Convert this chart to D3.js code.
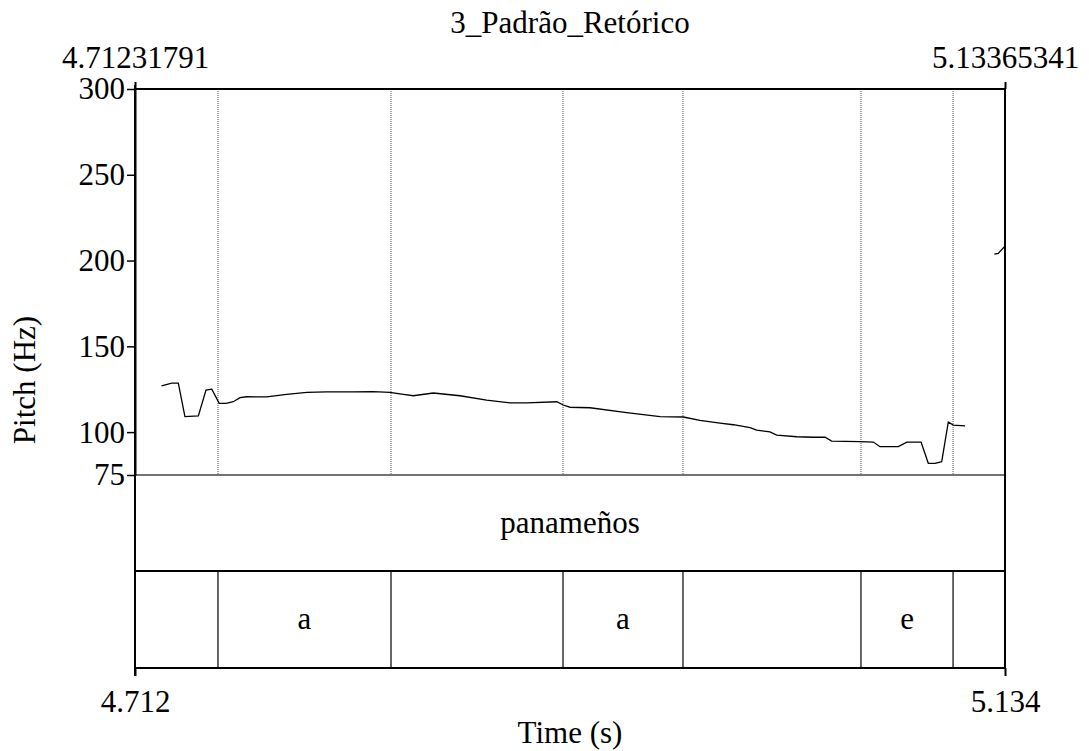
<!DOCTYPE html>
<html>
<head>
<meta charset="utf-8">
<script src="https://cdn.jsdelivr.net/npm/d3@7"></script>
<style>
  html, body { margin: 0; padding: 0; background: #fff; }
  svg { display: block; }
</style>
</head>
<body>
<svg id="chart" width="1089" height="751"></svg>
<script>
// ---- data ----
const timeDomain = [4.71231791, 5.13365341];
const pitchTicks = [75, 100, 150, 200, 250, 300];

// pitch track, first voiced stretch
const pitchTimes1 = [4.7252, 4.7301, 4.7333, 4.7365, 4.7430, 4.7467, 4.7495, 4.7531, 4.7564, 4.7599,
  4.7632, 4.7664, 4.7761, 4.7858, 4.7955, 4.8052, 4.8179, 4.8276, 4.8358, 4.8423,
  4.8471, 4.8568, 4.8697, 4.8826, 4.8939, 4.9020, 4.9166, 4.9197, 4.9230, 4.9327,
  4.9504, 4.9666, 4.9779, 4.9859, 4.9956, 5.0021, 5.0102, 5.0134, 5.0198, 5.0231,
  5.0328, 5.0408, 5.0465, 5.0497, 5.0634, 5.0699, 5.0731, 5.0820, 5.0861, 5.0930,
  5.0965, 5.0998, 5.1030, 5.1062, 5.1086, 5.1143];
const pitchHz1 = [126.9, 128.5, 128.6, 109.0, 109.4, 124.5, 125.0, 116.8, 116.8, 117.7,
  120.1, 120.6, 120.5, 122.0, 123.2, 123.4, 123.4, 123.6, 123.2, 122.0,
  121.2, 122.8, 121.2, 118.7, 117.1, 117.1, 117.7, 115.8, 114.5, 114.2,
  111.3, 109.0, 108.8, 106.9, 105.3, 104.3, 102.6, 101.2, 100.1, 98.3,
  97.3, 97.0, 97.1, 94.8, 94.4, 94.2, 91.5, 91.5, 94.2, 94.2,
  81.8, 81.8, 82.8, 105.9, 104.1, 103.6];
// pitch track, second voiced stretch
const pitchTimes2 = [5.1285, 5.1304, 5.1337];
const pitchHz2 = [203.8, 204.2, 208.5];

// word tier
const wordBounds = [];
const wordLabels = ["panameños"];

// phone tier
const phoneBounds = [4.7525, 4.8363, 4.9196, 4.9777, 5.0639, 5.1085];
const phoneLabels = ["", "a", "", "a", "", "e", ""];

const title = "3_Padrão_Retórico";

// ---- layout ----
const left = 135, right = 1005;
const pitchTop = 89, pitchBottom = 475;
const tier1Bottom = 571, tier2Bottom = 668;
const FONT = 31;
const SERIF = '"Liberation Serif"';

const svg = d3.select("#chart");
const x = d3.scaleLinear().domain(timeDomain).range([left, right]);
const y = d3.scaleLinear().domain([75, 300]).range([pitchBottom, pitchTop]);

// title
svg.append("text").attr("x", (left + right) / 2).attr("y", 33)
  .attr("text-anchor", "middle").text(title);

// dotted boundary guides in the pitch panel
svg.append("g").selectAll("line").data(phoneBounds).join("line")
  .attr("x1", d => x(d)).attr("x2", d => x(d))
  .attr("y1", pitchTop).attr("y2", pitchBottom)
  .attr("stroke", "#555").attr("stroke-width", 1).attr("stroke-dasharray", "1,1");

// pitch curve
svg.append("clipPath").attr("id", "clip").append("rect")
  .attr("x", left).attr("y", pitchTop).attr("width", right - left).attr("height", pitchBottom - pitchTop);
const line = d3.line().x(d => x(d[0])).y(d => y(d[1]));
const g = svg.append("g").attr("clip-path", "url(#clip)");
[[pitchTimes1, pitchHz1], [pitchTimes2, pitchHz2]].forEach(([ts, hs]) => {
  g.append("path").datum(ts.map((t, i) => [t, hs[i]]))
    .attr("d", line).attr("fill", "none").attr("stroke", "#000").attr("stroke-width", 1.3);
});

// tier separators
svg.append("line").attr("x1", left).attr("x2", right).attr("y1", pitchBottom).attr("y2", pitchBottom)
  .attr("stroke", "#444").attr("stroke-width", 1.5);
svg.append("line").attr("x1", left).attr("x2", right).attr("y1", tier1Bottom).attr("y2", tier1Bottom)
  .attr("stroke", "#000").attr("stroke-width", 2);

// word tier
const wEdges = [timeDomain[0], ...wordBounds, timeDomain[1]];
svg.append("g").selectAll("line").data(wordBounds).join("line")
  .attr("x1", d => x(d)).attr("x2", d => x(d)).attr("y1", pitchBottom).attr("y2", tier1Bottom)
  .attr("stroke", "#000").attr("stroke-width", 1.2);
svg.append("g").selectAll("text").data(wordLabels).join("text")
  .attr("x", (d, i) => (x(wEdges[i]) + x(wEdges[i + 1])) / 2)
  .attr("y", (pitchBottom + tier1Bottom) / 2).attr("dy", "0.32em")
  .attr("text-anchor", "middle").text(d => d);

// phone tier
const pEdges = [timeDomain[0], ...phoneBounds, timeDomain[1]];
svg.append("g").selectAll("line").data(phoneBounds).join("line")
  .attr("x1", d => x(d)).attr("x2", d => x(d)).attr("y1", tier1Bottom).attr("y2", tier2Bottom)
  .attr("stroke", "#000").attr("stroke-width", 1.2);
svg.append("g").selectAll("text").data(phoneLabels).join("text")
  .attr("x", (d, i) => (x(pEdges[i]) + x(pEdges[i + 1])) / 2)
  .attr("y", (tier1Bottom + tier2Bottom) / 2).attr("dy", "0.32em")
  .attr("text-anchor", "middle").text(d => d);

// frame
svg.append("line").attr("x1", left).attr("x2", right).attr("y1", pitchTop).attr("y2", pitchTop)
  .attr("stroke", "#000").attr("stroke-width", 2);
svg.append("line").attr("x1", left).attr("x2", right).attr("y1", tier2Bottom).attr("y2", tier2Bottom)
  .attr("stroke", "#000").attr("stroke-width", 2);
svg.append("line").attr("x1", right).attr("x2", right).attr("y1", pitchTop).attr("y2", tier2Bottom)
  .attr("stroke", "#000").attr("stroke-width", 2);

// left pitch axis
const yAxis = svg.append("g").attr("transform", `translate(${left},0)`)
  .call(d3.axisLeft(y).tickValues(pitchTicks).tickSize(8).tickPadding(2).tickSizeOuter(0));
yAxis.select(".domain").attr("stroke-width", 2);
yAxis.selectAll(".tick line").attr("stroke-width", 1.5);
svg.append("line").attr("x1", left).attr("x2", left).attr("y1", pitchTop - 4).attr("y2", tier2Bottom + 8)
  .attr("stroke", "#000").attr("stroke-width", 2);

// top time axis (exact window edges)
const topAxis = svg.append("g").attr("transform", `translate(0,${pitchTop})`)
  .call(d3.axisTop(x).tickValues(timeDomain).tickFormat(d3.format(".8f")).tickSize(7).tickPadding(14).tickSizeOuter(0));
topAxis.select(".domain").remove();
topAxis.selectAll(".tick line").attr("stroke-width", 2);

// bottom time axis
const botAxis = svg.append("g").attr("transform", `translate(0,${tier2Bottom})`)
  .call(d3.axisBottom(x).tickValues(timeDomain).tickFormat(d3.format(".3f")).tickSize(8).tickPadding(14).tickSizeOuter(0));
botAxis.select(".domain").remove();
botAxis.selectAll(".tick line").attr("stroke-width", 2);

// axis titles
svg.append("text").attr("x", (left + right) / 2).attr("y", 743)
  .attr("text-anchor", "middle").text("Time (s)");
svg.append("text").attr("transform", "translate(35,380) rotate(-90)")
  .attr("text-anchor", "middle").text("Pitch (Hz)");

// one typeface and size for every label
svg.selectAll("text").style("font-family", SERIF).style("font-size", FONT + "px").attr("fill", "#000");
</script>
</body>
</html>
